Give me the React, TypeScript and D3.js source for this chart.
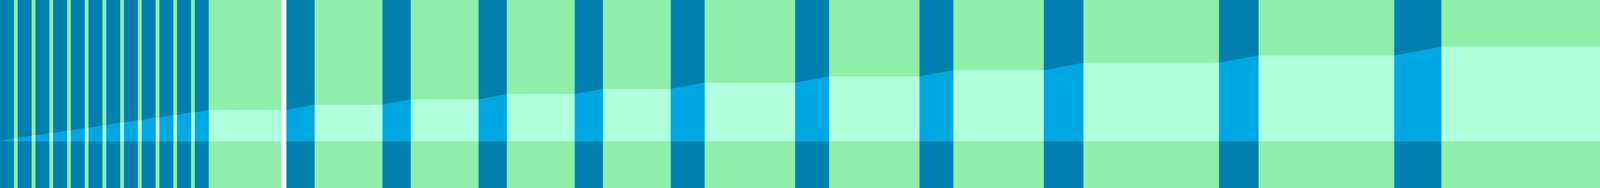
import React, { useEffect, useRef } from 'react';
import * as d3 from 'd3';

const WIDTH = 4246;
const HEIGHT = 480;

// timeline extent (x units)
const xDomain = [0, 4246];
// level axis: 0 at the band floor
const yDomain = [0, 361];

// green blocks along the timeline
const blockStarts = [37, 84, 131, 178, 225, 272, 319, 366, 413, 460, 507, 554, 835, 1090, 1345, 1600, 1870, 2200, 2530, 2875, 3340, 3825];
const blockEnds = [47, 94, 141, 188, 235, 282, 329, 376, 423, 470, 517, 745, 1015, 1270, 1525, 1780, 2110, 2440, 2770, 3235, 3700, 4246];
const blockLevels = [8.3, 15, 21, 28.3, 34, 41, 48.3, 54.3, 61, 67.3, 74, 80, 94.3, 107, 121, 134, 150, 166, 182, 201, 219, 242];

// white breaks in the timeline
const breakStarts = [745];
const breakEnds = [760];

const COLORS = {
  gap: '#0180b0',
  block: '#8eeeaa',
  bandGap: '#00a8e3',
  bandBlock: '#b0ffdd',
  breakFill: '#ffffff',
};

const App: React.FC = () => {
  const svgRef = useRef<SVGSVGElement>(null);

  useEffect(() => {
    if (!svgRef.current) return;
    document.body.style.margin = '0';
    document.body.style.overflow = 'hidden';

    const svg = d3.select(svgRef.current);
    svg.selectAll('*').remove();

    const x = d3.scaleLinear().domain(xDomain).range([0, WIDTH]);
    const y = d3.scaleLinear().domain(yDomain).range([yDomain[1], 0]);

    const blocks = blockStarts.map((s, i) => ({ start: s, end: blockEnds[i], level: blockLevels[i] }));
    const breaks = breakStarts.map((s, i) => ({ start: s, end: breakEnds[i] }));

    // band outline: flat across blocks (and breaks), sloped across gaps
    const pts: [number, number][] = [[xDomain[0], 0]];
    blocks.forEach(b => {
      pts.push([b.start, b.level], [b.end, b.level]);
      const br = breaks.find(k => k.start === b.end);
      if (br) pts.push([br.end, b.level]);
    });

    // background (gaps)
    svg.append('rect')
      .attr('x', x(xDomain[0]))
      .attr('y', 0)
      .attr('width', x(xDomain[1]) - x(xDomain[0]))
      .attr('height', HEIGHT)
      .attr('fill', COLORS.gap);

    // blocks
    svg.append('g')
      .selectAll('rect')
      .data(blocks)
      .join('rect')
      .attr('x', d => x(d.start))
      .attr('y', 0)
      .attr('width', d => x(d.end) - x(d.start))
      .attr('height', HEIGHT)
      .attr('fill', COLORS.block);

    // band
    const area = d3.area<[number, number]>()
      .x(d => x(d[0]))
      .y0(y(0))
      .y1(d => y(d[1]));

    svg.append('path')
      .datum(pts)
      .attr('fill', COLORS.bandGap)
      .attr('d', area);

    svg.append('g')
      .selectAll('rect')
      .data(blocks)
      .join('rect')
      .attr('x', d => x(d.start))
      .attr('y', d => y(d.level))
      .attr('width', d => x(d.end) - x(d.start))
      .attr('height', d => y(0) - y(d.level))
      .attr('fill', COLORS.bandBlock);

    // breaks
    svg.append('g')
      .selectAll('rect')
      .data(breaks)
      .join('rect')
      .attr('x', d => x(d.start))
      .attr('y', 0)
      .attr('width', d => x(d.end) - x(d.start))
      .attr('height', HEIGHT)
      .attr('fill', COLORS.breakFill);
  }, []);

  return (
    <svg
      ref={svgRef}
      viewBox={`0 0 ${WIDTH} ${HEIGHT}`}
      preserveAspectRatio="none"
      style={{ position: 'fixed', left: 0, top: 0, width: '100vw', height: '100vh', display: 'block' }}
    />
  );
};

export default App;
